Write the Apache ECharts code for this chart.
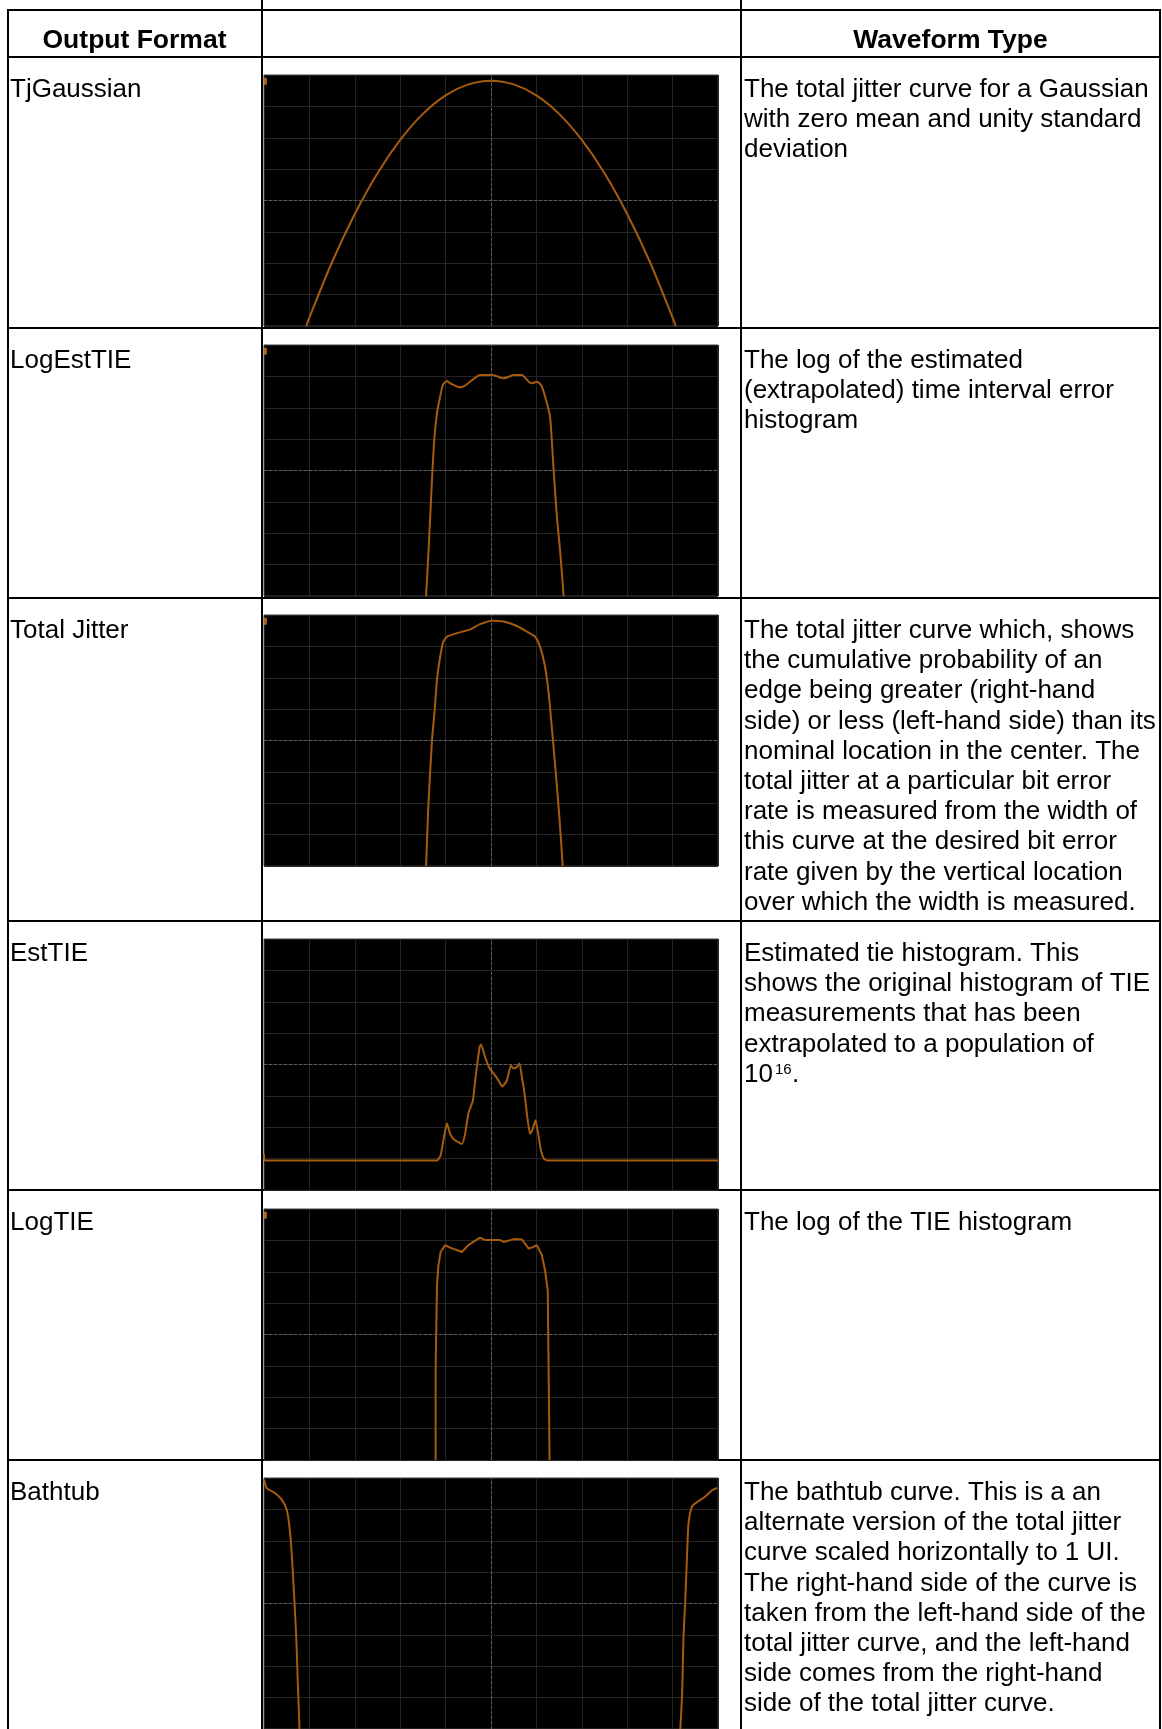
<!DOCTYPE html>
<html>
<head>
<meta charset="utf-8">
<script src="https://cdn.jsdelivr.net/npm/echarts@6/dist/echarts.min.js"></script>
<style>
  html, body { margin: 0; padding: 0; background: #fff; }
  #chart { width: 1162px; height: 1729px; }
</style>
</head>
<body>
<div id="chart"></div>
<script>
var tjGaussian = [[0.93,0],[1.0,0.27],[1.5,2.04],[2.0,3.57],[2.5,4.87],[3.0,5.93],[3.5,6.76],[4.0,7.35],[4.5,7.7],
  [5.0,7.82],[5.5,7.7],[6.0,7.35],[6.5,6.76],[7.0,5.93],[7.5,4.87],[8.0,3.57],[8.5,2.04],[9.0,0.27],[9.07,0]];
var logEstTIE = [[3.57,0],[3.63,1.59],[3.7,3.7],[3.75,4.98],[3.81,5.83],[3.88,6.36],[3.94,6.73],[4.03,6.85],[4.1,6.78],
  [4.32,6.65],[4.4,6.68],[4.54,6.83],[4.76,7.04],[5.03,7.04],[5.28,6.94],[5.5,7.04],[5.68,7.04],[5.83,6.83],[5.9,6.78],
  [6.01,6.83],[6.1,6.73],[6.19,6.36],[6.3,5.72],[6.38,4.0],[6.45,2.54],[6.52,1.48],[6.6,0]];
var totalJitter = [[3.57,0],[3.62,1.9],[3.7,4.0],[3.76,4.98],[3.81,5.93],[3.88,6.67],[3.95,7.15],[4.03,7.31],[4.25,7.42],
  [4.54,7.54],[4.76,7.71],[5.03,7.82],[5.28,7.79],[5.57,7.65],[5.79,7.47],[5.97,7.31],[6.08,6.99],[6.19,6.36],[6.27,5.51],
  [6.36,4.08],[6.44,2.75],[6.51,1.48],[6.58,0]];
var estTIE = [[0,1.15],[0.02,0.94],[3.81,0.94],[3.89,1.1],[3.95,1.58],[4.03,2.13],[4.1,1.79],[4.19,1.6],[4.36,1.47],
  [4.43,1.79],[4.5,2.43],[4.6,2.85],[4.67,3.71],[4.75,4.56],[4.78,4.64],[4.87,4.24],[4.97,3.87],[5.06,3.71],[5.14,3.55],
  [5.25,3.3],[5.35,3.49],[5.44,3.97],[5.5,3.87],[5.57,3.92],[5.63,4.03],[5.68,3.6],[5.73,3.17],[5.8,2.32],[5.86,1.79],
  [5.92,1.95],[5.98,2.22],[6.04,1.79],[6.1,1.26],[6.17,0.99],[6.25,0.94],[10,0.94]];
var logTIE = [[3.78,0],[3.78,2.85],[3.81,5.54],[3.84,6.18],[3.89,6.63],[3.99,6.85],[4.1,6.77],[4.36,6.63],[4.5,6.85],
  [4.76,7.09],[4.87,7.01],[4.98,7.01],[5.2,7.01],[5.28,6.95],[5.5,7.04],[5.68,7.03],[5.83,6.74],[5.9,6.77],[6.01,6.85],
  [6.12,6.53],[6.19,6.05],[6.25,5.41],[6.27,2.75],[6.29,0]];
var bathtub = [[0,7.95],[0.06,7.68],[0.24,7.52],[0.39,7.31],[0.5,6.99],[0.56,6.46],[0.61,5.61],[0.66,4.33],[0.71,2.95],
  [0.74,1.67],[0.77,0.5],[0.78,0],null,[9.17,0],[9.21,1.14],[9.24,2.95],[9.28,4.12],[9.32,5.61],[9.35,6.54],[9.43,7.1],
  [9.57,7.26],[9.72,7.41],[9.87,7.61],[9.98,7.68]];

var traces = [tjGaussian, logEstTIE, totalJitter, estTIE, logTIE, bathtub];
var smoothing = [0.3, 0.2, 0.2, 0.15, 0, 0.2];
var hasMarker = [true, true, true, false, true, false];

var formats = ['TjGaussian', 'LogEstTIE', 'Total Jitter', 'EstTIE', 'LogTIE', 'Bathtub'];
var waveformText = [
  ['The total jitter curve for a Gaussian', 'with zero mean and unity standard', 'deviation'],
  ['The log of the estimated', '(extrapolated) time interval error', 'histogram'],
  ['The total jitter curve which, shows', 'the cumulative probability of an', 'edge being greater (right-hand',
   'side) or less (left-hand side) than its', 'nominal location in the center. The', 'total jitter at a particular bit error',
   'rate is measured from the width of', 'this curve at the desired bit error', 'rate given by the vertical location',
   'over which the width is measured.'],
  ['Estimated tie histogram. This', 'shows the original histogram of TIE', 'measurements that has been',
   'extrapolated to a population of'],
  ['The log of the TIE histogram'],
  ['The bathtub curve. This is a an', 'alternate version of the total jitter', 'curve scaled horizontally to 1 UI.',
   'The right-hand side of the curve is', 'taken from the left-hand side of the', 'total jitter curve, and the left-hand',
   'side comes from the right-hand', 'side of the total jitter curve.']
];

// page layout
var rowTops = [57, 328, 598, 921, 1190, 1460];
var plotTops = [75, 345, 615, 939, 1209, 1478];
var FONT = '"Liberation Sans", Arial, sans-serif';
var FS = 26;
var LINE_H = 30.2;

var grids = [], xAxes = [], yAxes = [], series = [];
traces.forEach(function (data, i) {
  grids.push({
    left: 264, top: plotTops[i], width: 454, height: 251,
    show: true, backgroundColor: '#000', borderColor: '#3a3a3a', borderWidth: 1
  });
  xAxes.push({
    gridIndex: i, type: 'value', min: 0, max: 10, interval: 1,
    axisLine: { show: false }, axisTick: { show: false }, axisLabel: { show: false },
    splitLine: { lineStyle: { color: '#242424', width: 1 } }
  });
  yAxes.push({
    gridIndex: i, type: 'value', min: 0, max: 8, interval: 1,
    axisLine: { show: false }, axisTick: { show: false }, axisLabel: { show: false },
    splitLine: { lineStyle: { color: '#242424', width: 1 } }
  });
  // centre cross of the graticule
  series.push({
    type: 'line', xAxisIndex: i, yAxisIndex: i, data: [], z: 1, silent: true,
    markLine: {
      silent: true, symbol: 'none', label: { show: false }, animation: false,
      lineStyle: { color: '#5e5e5e', type: [3, 2], width: 1 },
      data: [{ xAxis: 5 }, { yAxis: 4 }]
    }
  });
  series.push({
    type: 'line', xAxisIndex: i, yAxisIndex: i, data: data, z: 3,
    showSymbol: false, smooth: smoothing[i], connectNulls: false,
    lineStyle: { color: '#a65b0e', width: 2 },
    // channel marker in the top-left corner of the scope shot
    markPoint: hasMarker[i] ? {
      silent: true, symbol: 'rect', symbolSize: [3, 7], label: { show: false },
      itemStyle: { color: '#b8660f' },
      data: [{ coord: [0.03, 7.8] }]
    } : undefined
  });
});

var graphics = [];
function rule(x1, y1, x2, y2) {
  graphics.push({ type: 'line', silent: true, shape: { x1: x1, y1: y1, x2: x2, y2: y2 },
    style: { stroke: '#000', lineWidth: 2 } });
}
function label(str, x, baseline, size, weight, align) {
  graphics.push({ type: 'text', silent: true, x: x, y: baseline - size * 0.35,
    style: { text: str, font: (weight || 'normal') + ' ' + size + 'px ' + FONT, fill: '#000',
      textAlign: align || 'left', textVerticalAlign: 'middle' } });
}

// table rules
rule(7, 10, 1161, 10);
[57].concat(rowTops.slice(1)).forEach(function (y) { rule(7, y, 1161, y); });
rule(8, 10, 8, 1729);
rule(262, 0, 262, 1729);
rule(741, 0, 741, 1729);
rule(1160, 10, 1160, 1729);

// header
label('Output Format', 134.5, 50, 26.5, 'bold', 'center');
label('Waveform Type', 950.5, 50, 26.5, 'bold', 'center');

formats.forEach(function (name, i) {
  var base = rowTops[i] + 42;
  label(name, 10, base, FS);
  waveformText[i].forEach(function (line, k) {
    label(line, 744, base + k * LINE_H, FS);
  });
});
// 10^16. on the EstTIE row
var popBase = rowTops[3] + 42 + 4 * LINE_H;
label('10', 744, popBase, FS);
label('16', 775, popBase - 9, 15);
label('.', 792, popBase, FS);

var chart = echarts.init(document.getElementById('chart'), null, { renderer: 'canvas' });
chart.setOption({
  animation: false,
  backgroundColor: '#fff',
  grid: grids,
  xAxis: xAxes,
  yAxis: yAxes,
  series: series,
  graphic: { elements: graphics }
});
</script>
</body>
</html>
